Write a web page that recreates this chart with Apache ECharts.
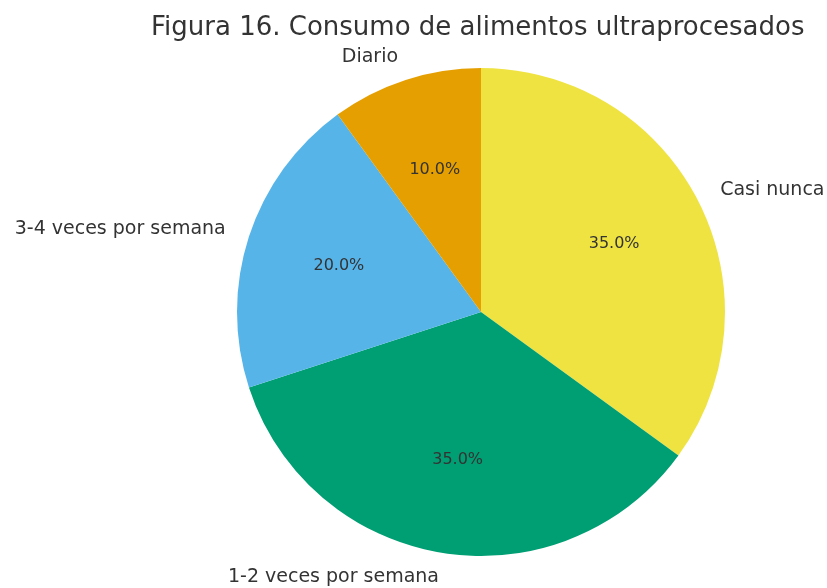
<!DOCTYPE html>
<html>
<head>
<meta charset="utf-8">
<script src="https://cdn.jsdelivr.net/npm/echarts@6/dist/echarts.min.js"></script>
<style>
  html, body { margin: 0; padding: 0; background: #fff; }
</style>
</head>
<body>
<div id="chart" style="width:827px;height:588px;"></div>
<script>
var categories = ['Casi nunca', '1-2 veces por semana', '3-4 veces por semana', 'Diario'];
var values = [35, 35, 20, 10];
var colors = ['#EFE342', '#009E73', '#56B4E9', '#E69F00'];

var myChart = echarts.init(document.getElementById('chart'));
var R = 244;
var font = 'DejaVu Sans';

var data = [];
for (var i = 0; i < categories.length; i++) {
    data.push({ name: categories[i], value: values[i], itemStyle: { color: colors[i] } });
}

var option = {
    animation: false,
    title: {
        text: 'Figura 16. Consumo de alimentos ultraprocesados',
        left: 146,
        top: 10,
        textStyle: { fontFamily: font, fontSize: 26, fontWeight: 'normal', color: '#333' }
    },
    series: [
        {
            // slices + category labels outside
            type: 'pie',
            center: [481, 312],
            radius: [0, R],
            startAngle: 90,
            clockwise: true,
            avoidLabelOverlap: false,
            itemStyle: { borderWidth: 0 },
            label: {
                show: true,
                position: 'outside',
                formatter: '{b}',
                fontFamily: font,
                fontSize: 19,
                color: '#333',
                distanceToLabelLine: 0
            },
            labelLine: { show: false, length: R * 0.1, length2: 0 },
            emphasis: { disabled: true },
            data: data
        },
        {
            // percentage labels at 0.6 R
            type: 'pie',
            center: [481, 312],
            radius: [R * 0.2, R],
            startAngle: 90,
            clockwise: true,
            silent: true,
            itemStyle: { color: 'transparent', borderWidth: 0 },
            label: {
                show: true,
                position: 'inside',
                formatter: function (p) { return p.value.toFixed(1) + '%'; },
                fontFamily: font,
                fontSize: 16,
                color: '#333'
            },
            labelLine: { show: false },
            data: categories.map(function (c, i) { return { name: c, value: values[i] }; })
        }
    ]
};

myChart.setOption(option);
</script>
</body>
</html>
